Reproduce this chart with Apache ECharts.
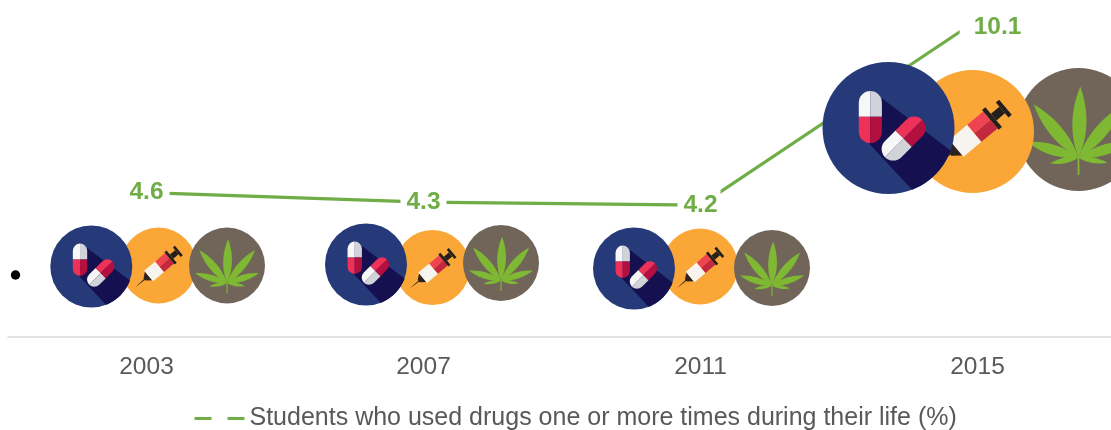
<!DOCTYPE html>
<html><head><meta charset="utf-8">
<style>html,body{margin:0;padding:0;background:#fff}#c{width:1111px;height:430px}</style>
<script src="https://cdn.jsdelivr.net/npm/echarts@6/dist/echarts.min.js"></script>
</head><body><div id="c"></div>
<script>
const categories = ['2003', '2007', '2011', '2015'];
const seriesName = 'Students who used drugs one or more times during their life (%)';
const values = [4.6, 4.3, 4.2, 10.1];

const GREEN = '#70ad47', NAVY = '#263a7a', SHADOW = '#15104f', ORANGE = '#fba737', BROWN = '#706558', LEAF = '#7fb832';
let zc = 1;
const Z = o => Object.assign(o, { z: 100, z2: zc++, silent: true });
const circle = (r, fill) => Z({ type: 'circle', shape: { cx: 0, cy: 0, r }, style: { fill } });
const rect = (x, y, w, h, fill, r) => Z({ type: 'rect', shape: { x, y, width: w, height: h, r: r || 0 }, style: { fill } });
const poly = (points, fill) => Z({ type: 'polygon', shape: { points }, style: { fill } });

function pillIcon() {
  const arc = [];
  const a0 = Math.atan2(34, 94), a1 = Math.atan2(94, 36);
  for (let i = 0; i <= 12; i++) { const a = a0 + (a1 - a0) * i / 12; arc.push([100 * Math.cos(a), 100 * Math.sin(a)]); }
  const A = 17.5;
  return [
    circle(100, NAVY),
    poly([[-10, -45], ...arc, [-43, 9]], SHADOW),
    rect(-45, -56, A, 39, '#f7f7f7', [A, 0, 0, 0]),
    rect(-27.5, -56, A, 39, '#d1d3d8', [0, A, 0, 0]),
    rect(-45, -17, A, 40, '#ee3158', [0, 0, 0, A]),
    rect(-27.5, -17, A, 40, '#b3103f', [0, 0, A, 0]),
    { type: 'group', x: 23, y: 16, rotation: Math.PI / 4, children: [
      rect(-40, -A, 40, A, '#f7f7f7', [A, 0, 0, 0]),
      rect(-40, 0, 40, A, '#d1d3d8', [0, 0, 0, A]),
      rect(0, -A, 40, A, '#ee3158', [0, A, 0, 0]),
      rect(0, 0, 40, A, '#b3103f', [0, 0, A, 0])
    ] }
  ];
}

function syringeIcon() {
  const teeth = [];
  for (let i = 0; i < 5; i++) teeth.push(poly([[-36 + i * 7, 18], [-32.5 + i * 7, 11], [-29 + i * 7, 18]], ORANGE));
  return [
    circle(100, ORANGE),
    { type: 'group', x: 3, y: 3, rotation: 40 * Math.PI / 180, children: [
      poly([[-84, 0], [-46, -2], [-46, 2]], '#3a2a20'),
      poly([[-52, -4], [-38, -15], [-38, 15], [-52, 4]], '#2b2320'),
      rect(-38, -18, 38, 36, '#f7f4ef'),
      ...teeth,
      rect(0, -18, 34, 18, '#ee4452'),
      rect(0, 0, 34, 18, '#c4283f'),
      rect(34, -21, 7, 42, '#231f1d'),
      rect(41, -7, 18, 14, '#231f1d'),
      rect(59, -16, 7, 32, '#231f1d')
    ] }
  ];
}

function leaflet(tx, ty, w) {
  const hx = 0, hy = 46, pts = [];
  const dx = tx - hx, dy = ty - hy, L = Math.hypot(dx, dy);
  const nx = -dy / L * w, ny = dx / L * w;
  const mx = hx + dx * 0.48, my = hy + dy * 0.48;
  for (let s of [1, -1]) {
    for (let i = 0; i <= 10; i++) {
      const t = s > 0 ? i / 10 : 1 - i / 10, u = 1 - t;
      pts.push([u * u * hx + 2 * u * t * (mx + s * nx) + t * t * tx, u * u * hy + 2 * u * t * (my + s * ny) + t * t * ty]);
    }
  }
  return poly(pts, LEAF);
}

function leafIcon() {
  return [
    circle(100, BROWN),
    rect(-1.5, 44, 3, 30, LEAF),
    leaflet(3, -70, 23), leaflet(74, -41, 21), leaflet(-73, -41, 21),
    leaflet(84, 20, 17), leaflet(-84, 20, 17), leaflet(47, 54, 9), leaflet(-46, 55, 9)
  ];
}

function place(cx, cy, r, children) {
  const s = r / 100;
  return { type: 'group', x: cx, y: cy, scaleX: s, scaleY: s, children };
}

const graphics = [
  Z({ type: 'circle', shape: { cx: 15.5, cy: 275, r: 4.7 }, style: { fill: '#000' } }),
  // 2003
  place(158.5, 265.5, 38, syringeIcon()), place(227, 265.5, 38, leafIcon()), place(91.3, 266.5, 41, pillIcon()),
  // 2007
  place(432.5, 267.5, 37.5, syringeIcon()), place(501, 263, 38, leafIcon()), place(366, 264.5, 41, pillIcon()),
  // 2011
  place(700, 266.5, 38, syringeIcon()), place(772, 268, 38, leafIcon()), place(634, 268.5, 41, pillIcon()),
  // 2015
  place(1078.5, 129.5, 61.5, leafIcon()), place(972.5, 131.5, 61.5, syringeIcon()), place(888.5, 128, 66, pillIcon())
];

const labelStyle = { show: true, position: 'inside', formatter: p => Number(p.value).toFixed(1), color: GREEN, fontFamily: 'Liberation Sans', fontSize: 24.5, fontWeight: 'bold', backgroundColor: '#fff', padding: 6 };

function labelLayoutFor(p) {
  if (p.dataIndex === 3) return { dx: 16, dy: 7, hideOverlap: false };
  if (p.dataIndex === 2) return { dx: -1.5, hideOverlap: false };
  return { hideOverlap: false };
}

const chart = echarts.init(document.getElementById('c'), null, { renderer: 'canvas' });
chart.setOption({
  animation: false,
  grid: { left: 8, width: 1108, top: 20, bottom: 93, outerBoundsMode: 'none' },
  xAxis: {
    type: 'category', data: categories, boundaryGap: true,
    axisLine: { lineStyle: { color: '#d9d9d9', width: 1.5 } }, axisTick: { show: false },
    axisLabel: { color: '#595959', fontFamily: 'Liberation Sans', fontSize: 24.5, margin: 18 }
  },
  yAxis: { type: 'value', min: 0, max: 10.1, show: false, splitLine: { show: false } },
  legend: {
    left: 189.5, top: 401, data: [{ name: seriesName, icon: 'path://M0 0H17V3H0Z M33 0H50V3H33Z' }],
    itemWidth: 50, itemHeight: 3.5, itemGap: 0,
    textStyle: { color: '#595959', fontFamily: 'Liberation Sans', fontSize: 25 }
  },
  graphic: graphics,
  series: [{
    type: 'line', name: seriesName, symbol: 'circle', symbolSize: 1, showSymbol: true, showAllSymbol: true, clip: false,
    lineStyle: { color: GREEN, width: 3.2 }, itemStyle: { color: GREEN },
    label: labelStyle,
    labelLayout: labelLayoutFor,
    data: values.map((v, i) => i === 3
      ? { value: v, label: { padding: [8, 6, 8, 14] } }
      : i === 2 ? { value: v, label: { padding: [6, 3, 6, 6] } } : v)
  }]
});
</script></body></html>
